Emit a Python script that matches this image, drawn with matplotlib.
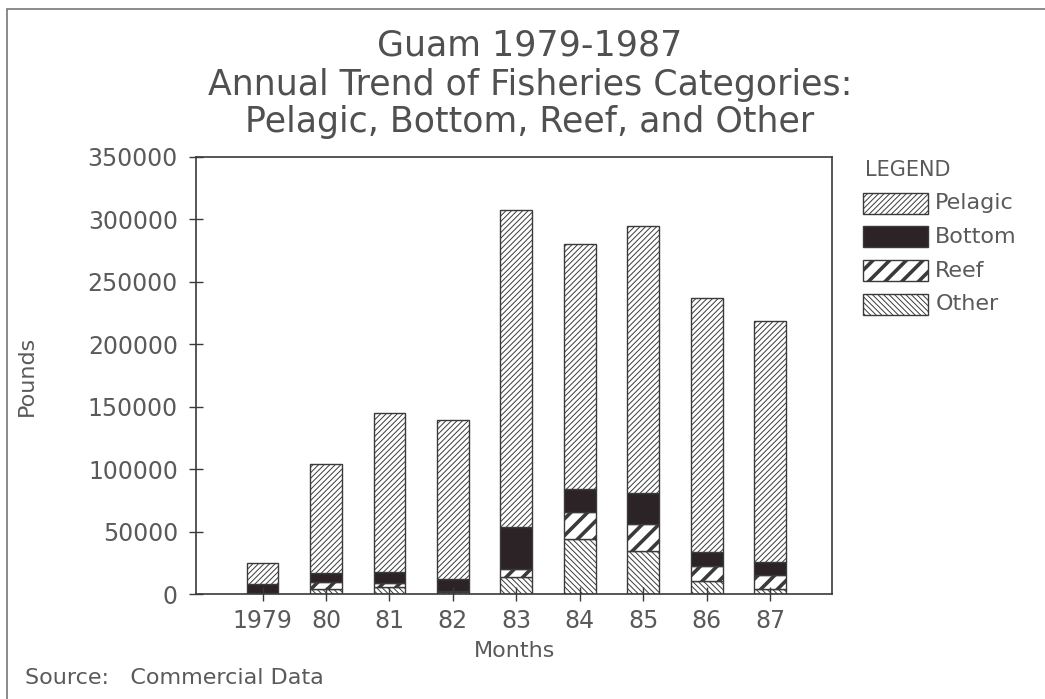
import matplotlib.pyplot as plt
from matplotlib.patches import Rectangle
import numpy as np

# data (pounds)
years = ['1979', '80', '81', '82', '83', '84', '85', '86', '87']
other = [1000, 4000, 5500, 2000, 13500, 44000, 34500, 10500, 4000]
reef = [0, 5500, 3500, 500, 6500, 21500, 21500, 12000, 11000]
bottom = [7000, 7000, 8500, 9500, 33500, 19000, 25000, 11000, 10500]
pelagic = [17000, 87500, 127500, 127000, 254000, 195500, 213500, 203500, 193000]
y_ticks = [0, 50000, 100000, 150000, 200000, 250000, 300000, 350000]

ink = '#3a3a3a'
txt = '#5a5a5a'

fig = plt.figure(figsize=(10.45, 6.99), dpi=100)
ax = fig.add_axes([0.1875, 0.1502, 0.609, 0.6252])

x = np.arange(len(years))
w = 0.5

# name, values, style, hatch line width
series = [
    ('Other', other, dict(facecolor='white', hatch='\\\\\\\\\\\\'), 0.7),
    ('Reef', reef, dict(facecolor='white', hatch='//'), 2.6),
    ('Bottom', bottom, dict(facecolor='#2b2326', hatch=None), 0.7),
    ('Pelagic', pelagic, dict(facecolor='white', hatch='//////'), 0.7),
]

base = np.zeros(len(years))
for name, vals, style, hlw in series:
    vals = np.array(vals)
    with plt.rc_context({'hatch.linewidth': hlw}):
        ax.bar(x, vals, w, bottom=base, edgecolor=ink, linewidth=1.0, **style)
    base = base + vals

ax.set_xlim(-1.05, 8.98)
ax.set_ylim(0, 350000)
ax.set_xticks(x)
ax.set_xticklabels(years)
ax.set_yticks(y_ticks)
ax.set_yticklabels([str(v) for v in y_ticks])
ax.tick_params(direction='inout', length=10, width=1, colors=ink, labelcolor=txt, labelsize=17)
ax.tick_params(axis='y', pad=8)
ax.tick_params(axis='x', pad=6)
for s in ax.spines.values():
    s.set_color(ink)
    s.set_linewidth(1.2)

ax.set_xlabel('Months', fontsize=16, color=txt)
ax.xaxis.set_label_coords(0.5, -0.108)
ax.set_ylabel('Pounds', fontsize=16, color=txt)
ax.yaxis.set_label_coords(-0.25, 0.5)

fig.text(0.507, 0.935, 'Guam 1979-1987', ha='center', va='center', fontsize=25, color='#505050')
fig.text(0.507, 0.878, 'Annual Trend of Fisheries Categories:', ha='center', va='center', fontsize=25, color='#505050')
fig.text(0.507, 0.825, 'Pelagic, Bottom, Reef, and Other', ha='center', va='center', fontsize=25, color='#505050')

fig.text(0.024, 0.03, 'Source:   Commercial Data', ha='left', va='center', fontsize=16, color=txt)

# legend
fig.text(0.828, 0.757, 'LEGEND', ha='left', va='center', fontsize=15, color=txt)
leg_items = [series[3], series[2], series[1], series[0]]
row_y = [0.709, 0.661, 0.613, 0.565]
for (name, vals, style, hlw), yy in zip(leg_items, row_y):
    with plt.rc_context({'hatch.linewidth': hlw}):
        r = Rectangle((0.826, yy - 0.015), 0.062, 0.03, transform=fig.transFigure,
                      edgecolor=ink, linewidth=1.0, **style)
    fig.patches.append(r)
    fig.text(0.895, yy, name, ha='left', va='center', fontsize=16, color=txt)

# page frame
fig.patches.append(Rectangle((0.007, -0.01), 1.2, 0.997, transform=fig.transFigure,
                             fill=False, edgecolor='#777777', linewidth=1.2))

fig.savefig('out.png', dpi=100)
